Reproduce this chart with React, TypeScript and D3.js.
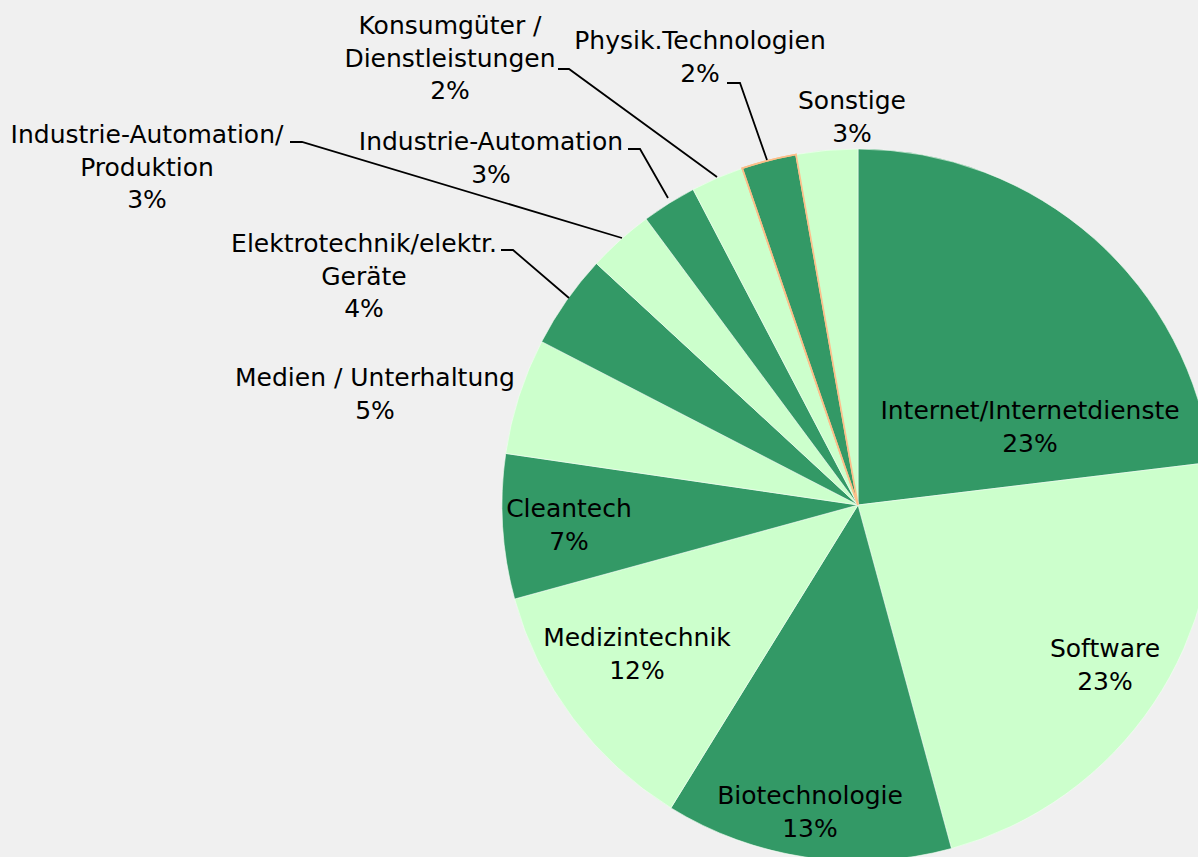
import * as React from 'react'
import * as d3 from 'd3'

// Branchen, im Uhrzeigersinn ab 12 Uhr
const categories = [
    'Internet/Internetdienste',
    'Software',
    'Biotechnologie',
    'Medizintechnik',
    'Cleantech',
    'Medien / Unterhaltung',
    'Elektrotechnik/elektr. Geräte',
    'Industrie-Automation/ Produktion',
    'Industrie-Automation',
    'Konsumgüter / Dienstleistungen',
    'Physik.Technologien',
    'Sonstige',
]
const shares = [23.2, 22.8, 13.1, 12.0, 6.6, 5.3, 4.3, 3.0, 2.5, 2.4, 2.5, 2.8]
const percentLabels = ['23%', '23%', '13%', '12%', '7%', '5%', '4%', '3%', '3%', '2%', '2%', '3%']

// label text lines, as wrapped in the chart
const labelLines = [
    ['Internet/Internetdienste'],
    ['Software'],
    ['Biotechnologie'],
    ['Medizintechnik'],
    ['Cleantech'],
    ['Medien / Unterhaltung'],
    ['Elektrotechnik/elektr.', 'Geräte'],
    ['Industrie-Automation/', 'Produktion'],
    ['Industrie-Automation'],
    ['Konsumgüter /', 'Dienstleistungen'],
    ['Physik.Technologien'],
    ['Sonstige'],
]

const W = 1198
const H = 857
const cx = 858
const cy = 505
const R = 356
const DARK = '#339966'
const LIGHT = '#ccffcc'
const LINE_H = 32.5

// label block placement (center x, first baseline y) and leader lines
const labelPos: [number, number][] = [
    [1030, 419], [1105, 657], [810, 804], [637, 646], [569, 517], [375, 386],
    [364, 252], [147, 143], [491, 150], [450, 34], [700, 49], [852, 109],
]
const leaders: ([number, number][] | null)[] = [
    null, null, null, null, null, null,
    [[501, 250], [513, 250], [569, 298]],
    [[290, 142], [302, 142], [622, 238]],
    [[628, 149], [640, 149], [668, 198]],
    [[558, 69], [569, 69], [717, 177]],
    [[727, 83], [740, 83], [767, 160]],
    null,
]

export default function App() {
    const pie = d3.pie<number>().sort(null).value(d => d)
    const arcs = pie(shares)
    const arc = d3.arc<d3.PieArcDatum<number>>().innerRadius(0).outerRadius(R)
    const line = d3.line()

    return <svg width={W} height={H} style={{ position: 'absolute', left: 0, top: 0, background: '#f0f0f0' }}
        fontFamily='DejaVu Sans, Verdana, sans-serif' fontSize={25}>
        <rect width={W} height={H} fill='#f0f0f0' />
        <g transform={`translate(${cx},${cy})`}>
            {arcs.map((a, i) => (
                <path key={categories[i]} d={arc(a) || ''}
                    fill={i % 2 === 0 ? DARK : LIGHT}
                    stroke={i === 10 ? '#fbbf8a' : '#f4fff4'}
                    strokeWidth={i === 10 ? 1.6 : 0.6} />
            ))}
            {/* re-draw highlighted slice outline on top */}
            <path d={arc(arcs[10]) || ''} fill='none' stroke='#fbbf8a' strokeWidth={1.6} />
        </g>
        {leaders.map((pts, i) => pts &&
            <path key={'l' + i} d={line(pts) || ''} fill='none' stroke='#000' strokeWidth={1.8} />)}
        {labelLines.map((lines, i) => (
            <text key={'t' + i} textAnchor='middle' fill='#000'>
                {[...lines, percentLabels[i]].map((s, j) => (
                    <tspan key={j} x={labelPos[i][0]} y={labelPos[i][1] + j * LINE_H}>{s}</tspan>
                ))}
            </text>
        ))}
    </svg>
}
